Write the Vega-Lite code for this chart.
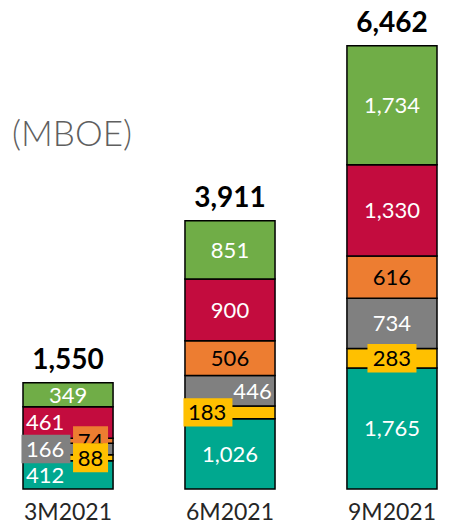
{
  "$schema": "https://vega.github.io/schema/vega-lite/v6.json",
  "width": 472,
  "height": 489,
  "padding": 0,
  "background": "#ffffff",
  "config": {"view": {"stroke": null}, "font": "Lato"},
  "datasets": {
    "segments": [
      {"cat": "3M2021", "series": "Series 1", "value": 412},
      {"cat": "3M2021", "series": "Series 2", "value": 88},
      {"cat": "3M2021", "series": "Series 3", "value": 166},
      {"cat": "3M2021", "series": "Series 4", "value": 74},
      {"cat": "3M2021", "series": "Series 5", "value": 461},
      {"cat": "3M2021", "series": "Series 6", "value": 349},
      {"cat": "6M2021", "series": "Series 1", "value": 1026},
      {"cat": "6M2021", "series": "Series 2", "value": 183},
      {"cat": "6M2021", "series": "Series 3", "value": 446},
      {"cat": "6M2021", "series": "Series 4", "value": 506},
      {"cat": "6M2021", "series": "Series 5", "value": 900},
      {"cat": "6M2021", "series": "Series 6", "value": 851},
      {"cat": "9M2021", "series": "Series 1", "value": 1765},
      {"cat": "9M2021", "series": "Series 2", "value": 283},
      {"cat": "9M2021", "series": "Series 3", "value": 734},
      {"cat": "9M2021", "series": "Series 4", "value": 616},
      {"cat": "9M2021", "series": "Series 5", "value": 1330},
      {"cat": "9M2021", "series": "Series 6", "value": 1734}
    ],
    "totals": [
      {"cat": "3M2021", "total": 1550},
      {"cat": "6M2021", "total": 3911},
      {"cat": "9M2021", "total": 6462}
    ],
    "unit": [{"label": "(MBOE)"}]
  },
  "layer": [
    {
      "data": {"name": "segments"},
      "transform": [
        {"stack": "value", "groupby": ["cat"], "sort": [{"field": "series"}], "as": ["y0", "y1"]}
      ],
      "mark": {"type": "bar", "stroke": "#000000", "strokeWidth": 1.5},
      "encoding": {
        "x": {"field": "cat", "type": "nominal", "sort": null,
              "scale": {"range": [0, 460], "paddingInner": 0.444, "paddingOuter": 0.142},
              "axis": {"title": null, "domain": false, "ticks": false, "labelAngle": 0,
                       "labelFont": "Lato", "labelFontSize": 23, "labelColor": "#262626", "labelPadding": 12}},
        "y": {"field": "y0", "type": "quantitative", "scale": {"domain": [0, 7130], "nice": false}, "axis": null},
        "y2": {"field": "y1"},
        "color": {"field": "series", "type": "nominal", "legend": null,
                  "scale": {"domain": ["Series 1", "Series 2", "Series 3", "Series 4", "Series 5", "Series 6"],
                            "range": ["#00A88F", "#FFC000", "#808080", "#ED7D31", "#C30C3E", "#70AD47"]}}
      }
    },
    {
      "data": {"name": "segments"},
      "transform": [
        {"stack": "value", "groupby": ["cat"], "sort": [{"field": "series"}], "as": ["y0", "y1"]},
        {"calculate": "(datum.y0 + datum.y1) / 2", "as": "mid"},
        {"calculate": "datum.cat == '3M2021' && (datum.series == 'Series 1' || datum.series == 'Series 3' || datum.series == 'Series 5') ? 'L' : datum.cat == '3M2021' && (datum.series == 'Series 2' || datum.series == 'Series 4') ? 'R' : datum.cat == '6M2021' && datum.series == 'Series 3' ? 'R' : datum.cat == '6M2021' && datum.series == 'Series 2' ? 'L' : 'C'", "as": "pos"},
        {"calculate": "format(datum.value, ',')", "as": "label"}
      ],
      "layer": [
        {
          "transform": [{"filter": "datum.pos == 'L' && (datum.series == 'Series 2' || datum.series == 'Series 3')"}],
          "mark": {"type": "point", "filled": true, "opacity": 1, "strokeWidth": 0, "shape": "M-1,-0.58H1V0.58H-1Z", "size": 2401},
          "encoding": {
            "x": {"field": "cat", "type": "nominal", "sort": null, "bandPosition": 0.255},
            "y": {"field": "mid", "type": "quantitative"},
            "color": {"field": "series", "type": "nominal", "legend": null}
          }
        },
        {
          "transform": [{"filter": "datum.pos == 'C' && datum.series == 'Series 2'"}],
          "mark": {"type": "point", "filled": true, "opacity": 1, "strokeWidth": 0, "shape": "M-1,-0.58H1V0.58H-1Z", "size": 2401},
          "encoding": {
            "x": {"field": "cat", "type": "nominal", "sort": null, "bandPosition": 0.5},
            "y": {"field": "mid", "type": "quantitative"},
            "color": {"field": "series", "type": "nominal", "legend": null}
          }
        },
        {
          "transform": [{"filter": "datum.pos == 'L'"}],
          "mark": {"type": "text", "fontSize": 22, "font": "Lato", "baseline": "middle", "dy": 1},
          "encoding": {
            "x": {"field": "cat", "type": "nominal", "sort": null, "bandPosition": 0.245},
            "y": {"field": "mid", "type": "quantitative"},
            "text": {"field": "label"},
            "color": {"condition": {"test": "datum.series == 'Series 2' || datum.series == 'Series 4'", "value": "#000000"}, "value": "#ffffff"}
          }
        },
        {
          "transform": [{"filter": "datum.pos == 'C'"}],
          "mark": {"type": "text", "fontSize": 22, "font": "Lato", "baseline": "middle", "dy": 1},
          "encoding": {
            "x": {"field": "cat", "type": "nominal", "sort": null, "bandPosition": 0.5},
            "y": {"field": "mid", "type": "quantitative"},
            "text": {"field": "label"},
            "color": {"condition": {"test": "datum.series == 'Series 2' || datum.series == 'Series 4'", "value": "#000000"}, "value": "#ffffff"}
          }
        },
        {
          "transform": [{"filter": "datum.pos == 'R' && datum.series == 'Series 4'"}],
          "mark": {"type": "point", "filled": true, "opacity": 1, "strokeWidth": 0, "shape": "M-1,-0.83H1V0.83H-1Z", "size": 1225},
          "encoding": {
            "x": {"field": "cat", "type": "nominal", "sort": null, "bandPosition": 0.75},
            "y": {"field": "mid", "type": "quantitative"},
            "color": {"field": "series", "type": "nominal", "legend": null}
          }
        },
        {
          "transform": [{"filter": "datum.pos == 'R' && datum.series != 'Series 2'"}],
          "mark": {"type": "text", "fontSize": 22, "font": "Lato", "baseline": "middle", "dy": 1},
          "encoding": {
            "x": {"field": "cat", "type": "nominal", "sort": null, "bandPosition": 0.75},
            "y": {"field": "mid", "type": "quantitative"},
            "text": {"field": "label"},
            "color": {"condition": {"test": "datum.series == 'Series 4'", "value": "#000000"}, "value": "#ffffff"}
          }
        },
        {
          "transform": [{"filter": "datum.pos == 'R' && datum.series == 'Series 2'"}],
          "mark": {"type": "point", "filled": true, "opacity": 1, "strokeWidth": 0, "shape": "M-1,-0.83H1V0.83H-1Z", "size": 1225},
          "encoding": {
            "x": {"field": "cat", "type": "nominal", "sort": null, "bandPosition": 0.75},
            "y": {"field": "mid", "type": "quantitative"},
            "color": {"field": "series", "type": "nominal", "legend": null}
          }
        },
        {
          "transform": [{"filter": "datum.pos == 'R' && datum.series == 'Series 2'"}],
          "mark": {"type": "text", "fontSize": 22, "font": "Lato", "baseline": "middle", "dy": 1, "color": "#000000"},
          "encoding": {
            "x": {"field": "cat", "type": "nominal", "sort": null, "bandPosition": 0.75},
            "y": {"field": "mid", "type": "quantitative"},
            "text": {"field": "label"}
          }
        }
      ]
    },
    {
      "data": {"name": "totals"},
      "mark": {"type": "text", "fontSize": 28, "fontWeight": "bold", "font": "Lato", "baseline": "alphabetic", "dy": -14, "color": "#000000"},
      "encoding": {
        "x": {"field": "cat", "type": "nominal", "sort": null},
        "y": {"field": "total", "type": "quantitative"},
        "text": {"field": "total", "type": "quantitative", "format": ","}
      }
    },
    {
      "data": {"name": "unit"},
      "mark": {"type": "text", "fontSize": 35, "fontWeight": 300, "font": "Lato", "align": "left", "baseline": "middle", "dx": -11, "color": "#5f5f5f"},
      "encoding": {
        "x": {"datum": "3M2021", "bandPosition": 0},
        "y": {"datum": 5160},
        "text": {"field": "label"}
      }
    },
    {
      "mark": {"type": "rule", "color": "#000000", "strokeWidth": 1.2},
      "encoding": {"y": {"datum": 0}}
    }
  ]
}
